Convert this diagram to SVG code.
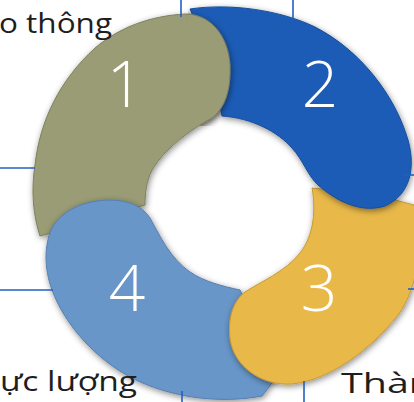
<svg xmlns="http://www.w3.org/2000/svg" xmlns:xlink="http://www.w3.org/1999/xlink" width="414" height="402" viewBox="0 0 414 402">
<defs>
<style>
.conn{stroke:#2160c0;stroke-width:1.6;fill:none}
.num{font-family:"Open Sans","Lato",sans-serif;font-weight:300;font-size:64px;fill:#ffffff;text-anchor:middle}
.lbl{font-family:"Open Sans","Noto Sans","Liberation Sans",sans-serif;font-size:28px;fill:#1e1e1e}
.s1{fill:#9a9c74;stroke:#7f805e;stroke-width:1}
.s2{fill:#1c5cb6;stroke:#174c98;stroke-width:1}
.s3{fill:#e8b84a;stroke:#c99a35;stroke-width:1}
.s4{fill:#6896c8;stroke:#557eae;stroke-width:1}
</style>
<filter id="sh" x="-20%" y="-20%" width="140%" height="140%">
<feDropShadow dx="1" dy="2" stdDeviation="3" flood-color="#000" flood-opacity="0.45"/>
</filter>
<clipPath id="headClip"><polygon points="188,0 262,0 262,126 200,126 188,40"/></clipPath>
<path id="p1" d="M40,236 C33,215 31,190 35,165 C40,120 60,80 95,48 C120,27 150,16 185,14 C210,14 228,35 230,65 C231,90 225,108 212,118 C190,130 165,148 152,170 C146,182 145,195 145,205 C120,212 70,228 40,236 Z"/>
</defs>
<rect width="414" height="402" fill="#ffffff"/>
<g id="node1">
<use xlink:href="#p1" class="s1" filter="url(#sh)"/>
<text class="num" x="125" y="107">1</text>
</g>
<g id="node4">
<path class="s4" filter="url(#sh)" d="M262,396 C220,404 170,398 130,377 C95,358 65,325 52,290 C44,268 44,245 52,228 C62,210 85,200 110,200 C128,200 142,206 150,218 C160,236 170,258 190,272 C205,282 222,286 240,290 L282,370 Z"/>
<text class="num" x="127" y="311">4</text>
</g>
<g id="node3">
<path class="s3" filter="url(#sh)" d="M312,188 C316,210 314,235 300,253 C285,272 260,282 245,292 C232,302 228,320 230,338 C233,365 260,386 292,384 C330,380 370,350 398,315 C415,292 420,260 420,230 L414,205 L395,200 L360,196 L330,190 Z"/>
<text class="num" x="319" y="311">3</text>
</g>
<g id="node2">
<path class="s2" filter="url(#sh)" d="M190,9 C230,3 280,10 315,27 C360,50 395,95 408,140 C416,168 410,195 385,206 C360,214 335,200 318,185 C308,176 303,160 292,148 C278,132 252,118 222,116 L212,60 Z"/>
<text class="num" x="320" y="107">2</text>
</g>
<g id="node1-head" clip-path="url(#headClip)">
<use xlink:href="#p1" class="s1" filter="url(#sh)"/>
</g>
<g id="connectors">
<line class="conn" x1="181" y1="0" x2="181" y2="17"/>
<line class="conn" x1="293" y1="0" x2="293" y2="19"/>
<line class="conn" x1="0" y1="168" x2="35" y2="168"/>
<line class="conn" x1="0" y1="290" x2="53" y2="290"/>
<line class="conn" x1="404" y1="175" x2="414" y2="175"/>
<line class="conn" x1="408" y1="289" x2="414" y2="289"/>
<line class="conn" x1="182" y1="391" x2="182" y2="402"/>
<line class="conn" x1="304" y1="381" x2="304" y2="402"/>
</g>
<g id="labels">
<text class="lbl" x="-1" y="33" textLength="113" lengthAdjust="spacingAndGlyphs">o thông</text>
<text class="lbl" x="0" y="391" textLength="137" lengthAdjust="spacingAndGlyphs">ực lượng</text>
<text class="lbl" x="341" y="393" textLength="92" lengthAdjust="spacingAndGlyphs">Thàn</text>
</g>
</svg>
